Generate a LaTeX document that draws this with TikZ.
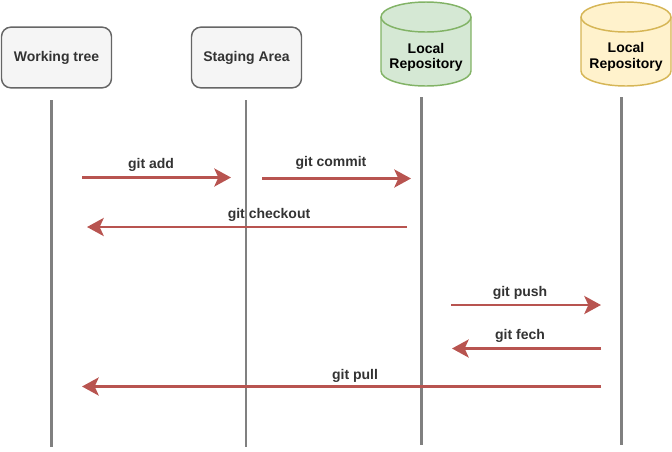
\documentclass[tikz,border=0pt]{standalone}
\usepackage{fontspec}
\setmainfont{Liberation Sans}
\usetikzlibrary{arrows.meta}
\definecolor{msgred}{HTML}{B85450}
\definecolor{lifegray}{HTML}{808080}
\definecolor{boxfill}{HTML}{F5F5F5}
\definecolor{boxline}{HTML}{666666}
\definecolor{txtgray}{HTML}{333333}
\definecolor{repogreen}{HTML}{D5E8D4}
\definecolor{repogreenline}{HTML}{82B366}
\definecolor{repoyellow}{HTML}{FFF2CC}
\definecolor{repoyellowline}{HTML}{D6B656}
\begin{document}
\begin{tikzpicture}[x=0.75pt, y=-0.75pt,
  every node/.style={font=\fontsize{10.5pt}{11.8pt}\selectfont\bfseries},
  area/.style={draw=boxline, fill=boxfill, line width=1.1pt, rounded corners=7pt,
    minimum width=82.5pt, minimum height=45.5pt, text=txtgray},
  repo/.style={line width=1.1pt},
  repoend/.style={x radius=33.75pt, y radius=11.25pt},
  repotext/.style={align=center},
  life/.style={draw=lifegray, line width=2pt},
  msg/.style={draw=msgred, line width=2.2pt, -{Stealth[length=12.5pt, width=13.5pt, inset=3pt]}},
  lbl/.style={text=txtgray}]
  \useasboundingbox (0,0) rectangle (672,451);
  % participants
  \node[area] (wt) at (56.5,57.5) {Working tree};
  \node[area] (sa) at (246.5,57.5) {Staging Area};
  \foreach \cx/\cf/\cd in {426/repogreen/repogreenline, 626/repoyellow/repoyellowline}{
    \draw[repo, draw=\cd, fill=\cf] (\cx-45,17) -- (\cx-45,71)
      arc[start angle=180, end angle=360, repoend] -- (\cx+45,17)
      arc[start angle=0, end angle=180, repoend] -- cycle;
    \draw[repo, draw=\cd] (\cx-45,17) arc[start angle=180, end angle=360, repoend];
  }
  \node[repotext] (lr) at (426,57.5) {Local\\Repository};
  \node[repotext] (rr) at (626,57) {Local\\Repository};
  % lifelines
  \coordinate (wt top) at (51.5,100);  \coordinate (wt bot) at (51.5,447);
  \coordinate (sa top) at (246,100);   \coordinate (sa bot) at (246,447);
  \coordinate (lr top) at (421.5,97);  \coordinate (lr bot) at (421.5,445);
  \coordinate (rr top) at (621.5,97);  \coordinate (rr bot) at (621.5,445);
  \draw[life] (wt top) -- (wt bot);
  \draw[life] (sa top) -- (sa bot);
  \draw[life] (lr top) -- (lr bot);
  \draw[life] (rr top) -- (rr bot);
  % messages
  \coordinate (add s) at (82,177.5);     \coordinate (add e) at (231,177.5);
  \coordinate (commit s) at (262,178.5); \coordinate (commit e) at (411,178.5);
  \coordinate (co s) at (407,227);       \coordinate (co e) at (87,227);
  \coordinate (push s) at (451,305);     \coordinate (push e) at (601,305);
  \coordinate (fech s) at (601,348.5);   \coordinate (fech e) at (452,348.5);
  \coordinate (pull s) at (601,386.5);   \coordinate (pull e) at (82,386.5);
  \draw[msg] (add s) -- (add e);
  \draw[msg] (commit s) -- (commit e);
  \draw[msg] (co s) -- (co e);
  \draw[msg] (push s) -- (push e);
  \draw[msg] (fech s) -- (fech e);
  \draw[msg] (pull s) -- (pull e);
  \node[lbl] (add l) at (151,165) {git add};
  \node[lbl] (commit l) at (331,163) {git commit};
  \node[lbl] (co l) at (269,215) {git checkout};
  \node[lbl] (push l) at (520,293) {git push};
  \node[lbl] (fech l) at (520,336) {git fech};
  \node[lbl] (pull l) at (355,376) {git pull};
\end{tikzpicture}
\end{document}
